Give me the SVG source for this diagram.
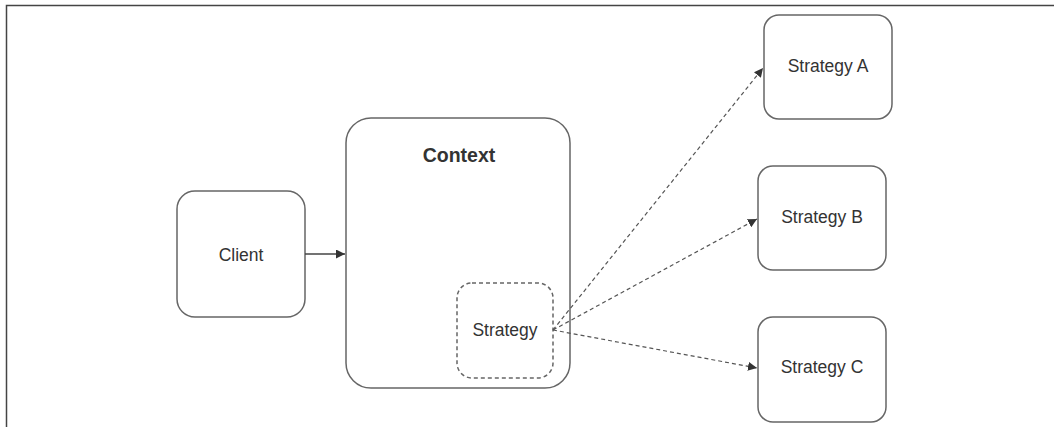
<svg xmlns="http://www.w3.org/2000/svg" width="1054" height="427" viewBox="0 0 1054 427">
<style>
.box{fill:#fff;stroke:#666;stroke-width:1.5}
.dbox{fill:none;stroke:#666;stroke-width:1.5;stroke-dasharray:4 3}
.lbl{font-family:"Liberation Sans",Arial,sans-serif;font-size:17.5px;fill:#333;text-anchor:middle}
.ttl{font-family:"Liberation Sans",Arial,sans-serif;font-size:19.5px;font-weight:bold;fill:#333;text-anchor:middle}
.solid{stroke:#444;stroke-width:1.5;fill:none}
.dash{stroke:#555;stroke-width:1.2;fill:none;stroke-dasharray:4 3}
</style>
<defs>
<marker id="ah" viewBox="0 0 10 10" refX="10" refY="5" markerWidth="9" markerHeight="9" markerUnits="userSpaceOnUse" orient="auto">
<path d="M0,0 L10,5 L0,10 z" fill="#333"/>
</marker>
<marker id="ah2" viewBox="0 0 10 10" refX="10" refY="5" markerWidth="9" markerHeight="9" markerUnits="userSpaceOnUse" orient="auto">
<path d="M0,0 L10,5 L0,10 z" fill="#333"/>
</marker>
</defs>
<rect width="1054" height="427" fill="#fff"/>
<path d="M6.5,427 V5.5 H1054" fill="none" stroke="#444" stroke-width="1.5"/>
<g id="client">
<rect class="box" x="177" y="191" width="128" height="126" rx="18"/>
<text class="lbl" x="241" y="261">Client</text>
</g>
<g id="context">
<rect class="box" x="346" y="118" width="224" height="270" rx="25"/>
<text class="ttl" x="459" y="162">Context</text>
</g>
<g id="strategy">
<rect class="dbox" x="457" y="283" width="96" height="95" rx="15"/>
<text class="lbl" x="505" y="336">Strategy</text>
</g>
<g id="strategyA">
<rect class="box" x="764" y="15" width="128" height="104" rx="15"/>
<text class="lbl" x="828" y="72">Strategy A</text>
</g>
<g id="strategyB">
<rect class="box" x="758" y="166" width="128" height="104" rx="15"/>
<text class="lbl" x="822" y="223">Strategy B</text>
</g>
<g id="strategyC">
<rect class="box" x="758" y="317" width="128" height="105" rx="15"/>
<text class="lbl" x="822" y="373">Strategy C</text>
</g>
<g id="connectors">
<line class="solid" x1="305" y1="254" x2="345" y2="254" marker-end="url(#ah)"/>
<line class="dash" x1="553" y1="330" x2="763" y2="68" marker-end="url(#ah2)"/>
<line class="dash" x1="553" y1="330" x2="757" y2="219" marker-end="url(#ah2)"/>
<line class="dash" x1="553" y1="330" x2="757" y2="368" marker-end="url(#ah2)"/>
</g>
</svg>
